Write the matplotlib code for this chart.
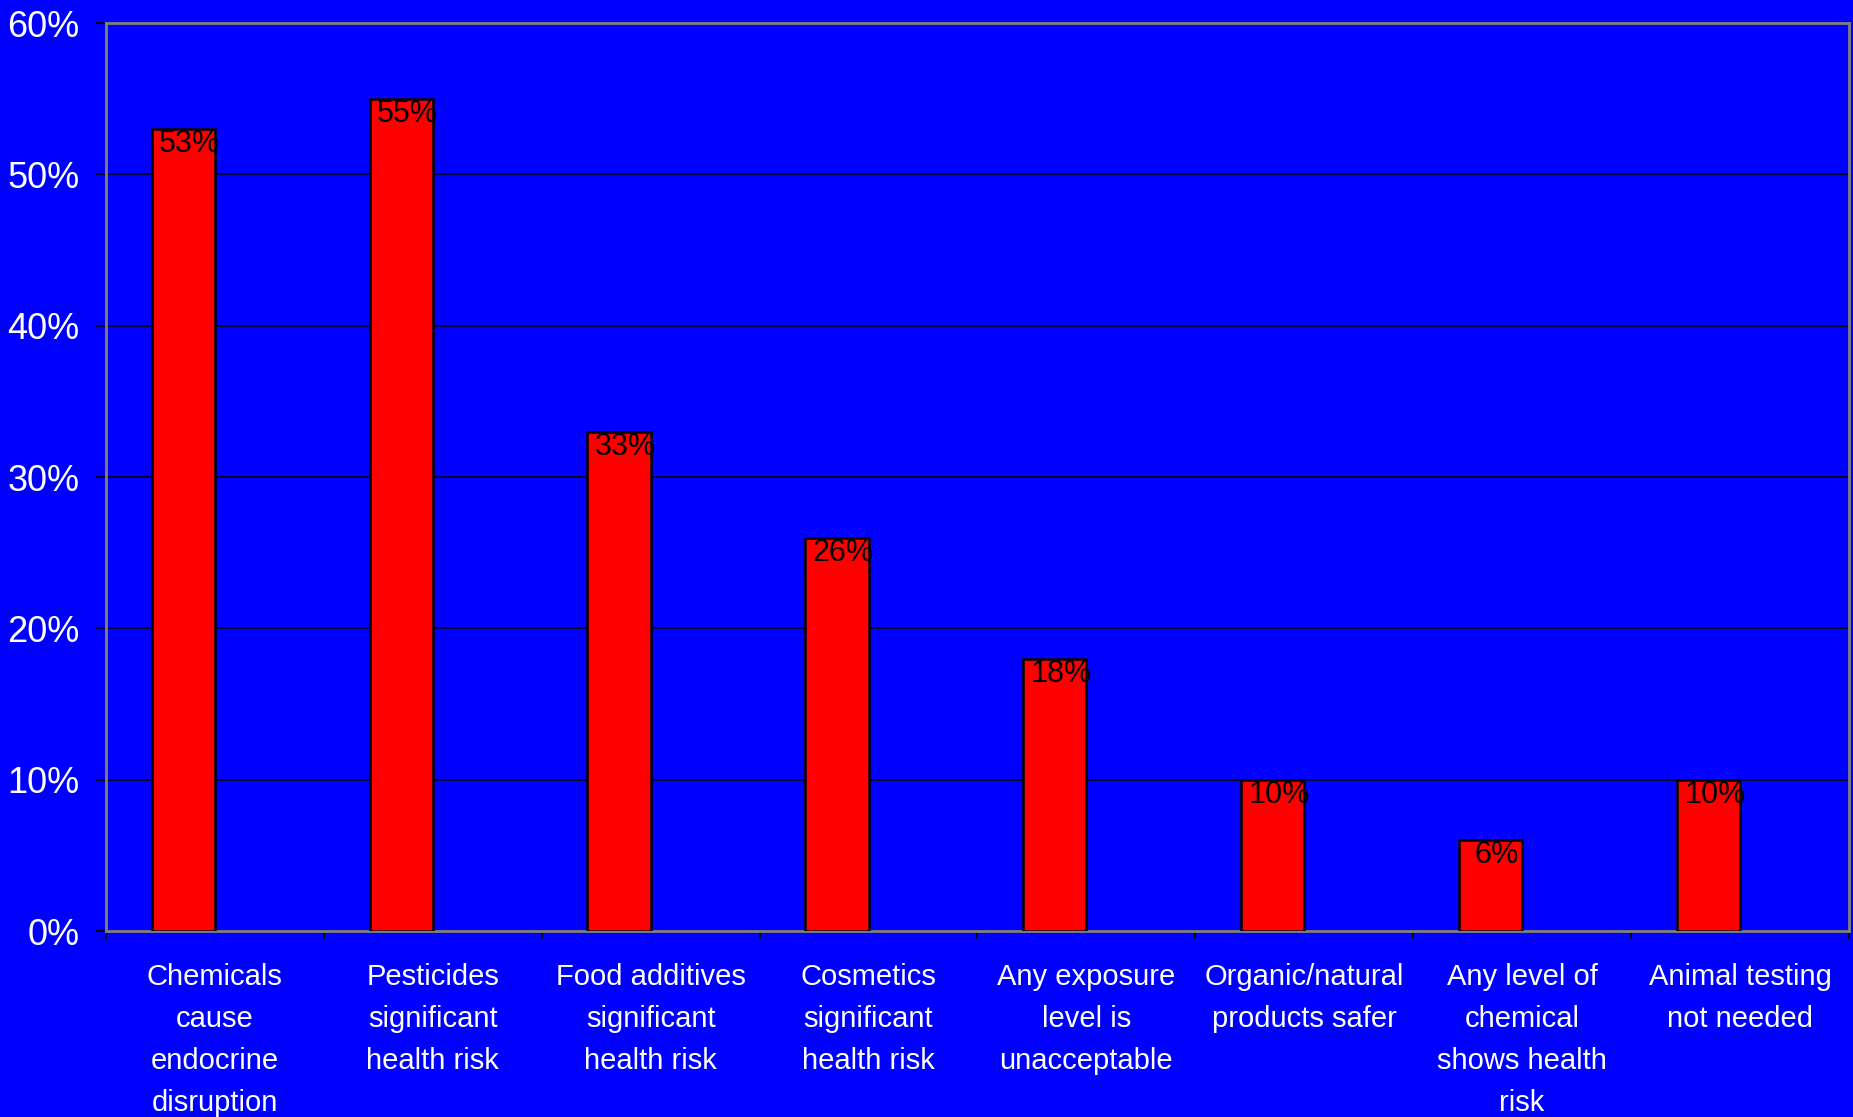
import numpy as np
import matplotlib
matplotlib.use("Agg")
import matplotlib.pyplot as plt

# survey results (share of respondents agreeing)
categories = [
    "Chemicals\ncause\nendocrine\ndisruption",
    "Pesticides\nsignificant\nhealth risk",
    "Food additives\nsignificant\nhealth risk",
    "Cosmetics\nsignificant\nhealth risk",
    "Any exposure\nlevel is\nunacceptable",
    "Organic/natural\nproducts safer",
    "Any level of\nchemical\nshows health\nrisk",
    "Animal testing\nnot needed",
]
values = [53, 55, 33, 26, 18, 10, 6, 10]
y_ticks = [0, 10, 20, 30, 40, 50, 60]


def make_chart():
    fig = plt.figure(figsize=(18.53, 11.17), dpi=100, facecolor="#0000FF")
    ax = fig.add_axes([0.0572, 0.1665, 0.9406, 0.8129])
    ax.set_facecolor("#0000FF")

    x = np.arange(len(values))
    bar_w = 0.29
    # bars sit left of the category centre (right edge on the centre)
    ax.bar(x - bar_w / 2, values, width=bar_w, color="#FF0000",
           edgecolor="black", linewidth=1.8, zorder=3)

    for xi, v in zip(x, values):
        ax.text(xi - bar_w / 2 + 0.03, v - 1.0, f"{v}%", ha="center", va="center",
                fontsize=22, color="black", family="Liberation Sans", zorder=4)

    ax.set_xlim(-0.5, len(values) - 0.5)
    ax.set_ylim(0, 60)

    ax.set_yticks(y_ticks)
    ax.set_yticklabels([f"{t}%" for t in y_ticks], fontsize=26, color="white",
                       family="Liberation Sans")
    ax.yaxis.grid(True, color="#000022", linewidth=1.3, zorder=1)
    ax.tick_params(axis="y", direction="out", length=7, width=1.2, color="black", pad=12)

    ax.set_xticks(x)
    ax.set_xticklabels(categories, fontsize=21, color="white",
                       family="Liberation Sans", linespacing=1.64)
    ax.tick_params(axis="x", which="major", length=0, pad=23)
    ax.set_xticks(np.arange(-0.5, len(values)), minor=True)
    ax.tick_params(axis="x", which="minor", direction="out", length=6, width=1.2, color="black")

    for side in ["left", "right", "top", "bottom"]:
        ax.spines[side].set_color("#808080")
        ax.spines[side].set_linewidth(2)

    fig.savefig("out.png", dpi=100, facecolor=fig.get_facecolor())


if __name__ == "__main__":
    make_chart()
